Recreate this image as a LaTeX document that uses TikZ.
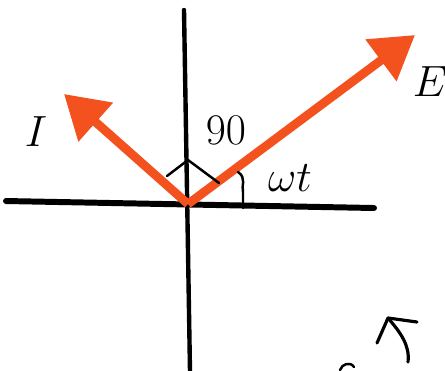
\documentclass[tikz,border=0pt]{standalone}
\usepackage{amsmath}
\usepackage{amssymb}
\usetikzlibrary{arrows.meta}
\definecolor{phcol}{RGB}{243,82,30}

\begin{document}
\begin{tikzpicture}[x=0.02cm,y=-0.02cm]
\tikzset{phasor/.style={draw=phcol,line width=5pt,-{Triangle[length=0.85cm,width=1.0cm]}},
  axis/.style={line width=3.4pt,line cap=round},
  pen/.style={line width=1.4pt,line cap=round,line join=round},
  lbl/.style={font=\fontsize{28}{30}\selectfont}}
\useasboundingbox (0,0) rectangle (445,370);
% axes
\coordinate (O) at (188,204);
\coordinate (xl) at (6,201);
\coordinate (xr) at (374,208);
\coordinate (yt) at (184,10);
\coordinate (yb) at (190,372);
\draw[axis] (xl) -- (xr);
\draw[axis,line width=2.5pt] (yt) -- (yb);
% phasors
\coordinate (Etip) at (415,35);
\coordinate (Itip) at (64,94);
\draw[phasor] (O) -- (Etip);
\draw[phasor] (O) -- (Itip);
\node[lbl] (lE) at (430,82) {$E$};
\node[lbl] (lI) at (36,132) {$I$};
% angles
\draw[pen] (167,176) -- (188,160) -- (219,183);
\node[lbl] (l90) at (226,130) {$90$};
\draw[pen] (238,172) .. controls (247,178) and (241,186) .. (243,192) -- (243,208);
\node[lbl] (lwt) at (290,178) {$\omega t$};
% stray marks
\draw[pen,line width=1.8pt] (377,343) -- (388,318) -- (417,322);
\draw[pen,line width=1.8pt] (388,318) .. controls (400,332) and (410,345) .. (408,362);
\draw[pen] (340,370) .. controls (342,364) and (350,361) .. (354,367);
\end{tikzpicture}
\end{document}
